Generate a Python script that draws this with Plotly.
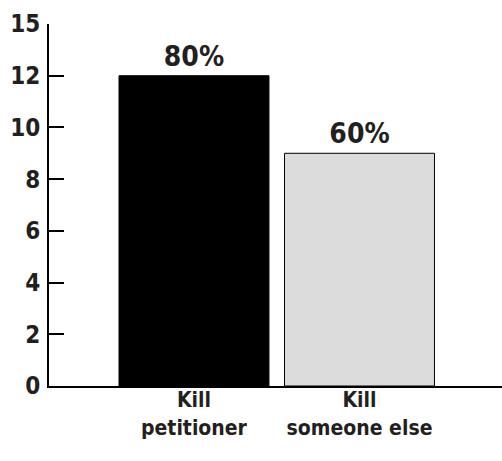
import plotly.graph_objects as go

categories = ["Kill<br>petitioner", "Kill<br>someone else"]
values = [12, 9]
bar_labels = ["80%", "60%"]
bar_colors = ["#000000", "#dcdcdc"]
ytick_vals = [0, 2, 4, 6, 8, 10, 12, 14]
ytick_text = ["0", "2", "4", "6", "8", "10", "12", "15"]

FONT = "DejaVu Sans Condensed, Roboto, sans-serif"
TXT = "#231f20"

fig = go.Figure()
fig.add_trace(go.Bar(
    x=[0, 1], y=values,
    width=0.906,
    marker=dict(color=bar_colors, line=dict(color="#000000", width=1)),
    text=bar_labels, textposition="outside", cliponaxis=False,
    textfont=dict(family=FONT, size=28, color=TXT, weight="bold"),
    hoverinfo="skip",
))
fig.update_layout(
    width=502, height=461,
    margin=dict(l=49, r=0, t=24, b=75, autoexpand=False),
    plot_bgcolor="white", paper_bgcolor="white",
    showlegend=False,
    font=dict(family=FONT, color=TXT, weight="bold"),
    xaxis=dict(range=[-0.876, 1.861], tickvals=[0, 1], ticktext=categories,
               showline=True, linecolor="#000000", linewidth=2, ticks="",
               showgrid=False, zeroline=False, automargin=False,
               ticklabelstandoff=-6,
               tickfont=dict(family=FONT, size=21, color=TXT, weight="bold")),
    yaxis=dict(range=[0, 14], tickvals=ytick_vals, ticktext=ytick_text,
               showline=True, linecolor="#000000", linewidth=2,
               ticks="inside", ticklen=15, tickwidth=2, tickcolor="#000000",
               showgrid=False, zeroline=False, automargin=False,
               ticklabelstandoff=2,
               tickfont=dict(family=FONT, size=24, color=TXT, weight="bold")),
)
fig.write_html("out.html", config={"displayModeBar": False},
               post_script="document.body.style.margin='0';")
